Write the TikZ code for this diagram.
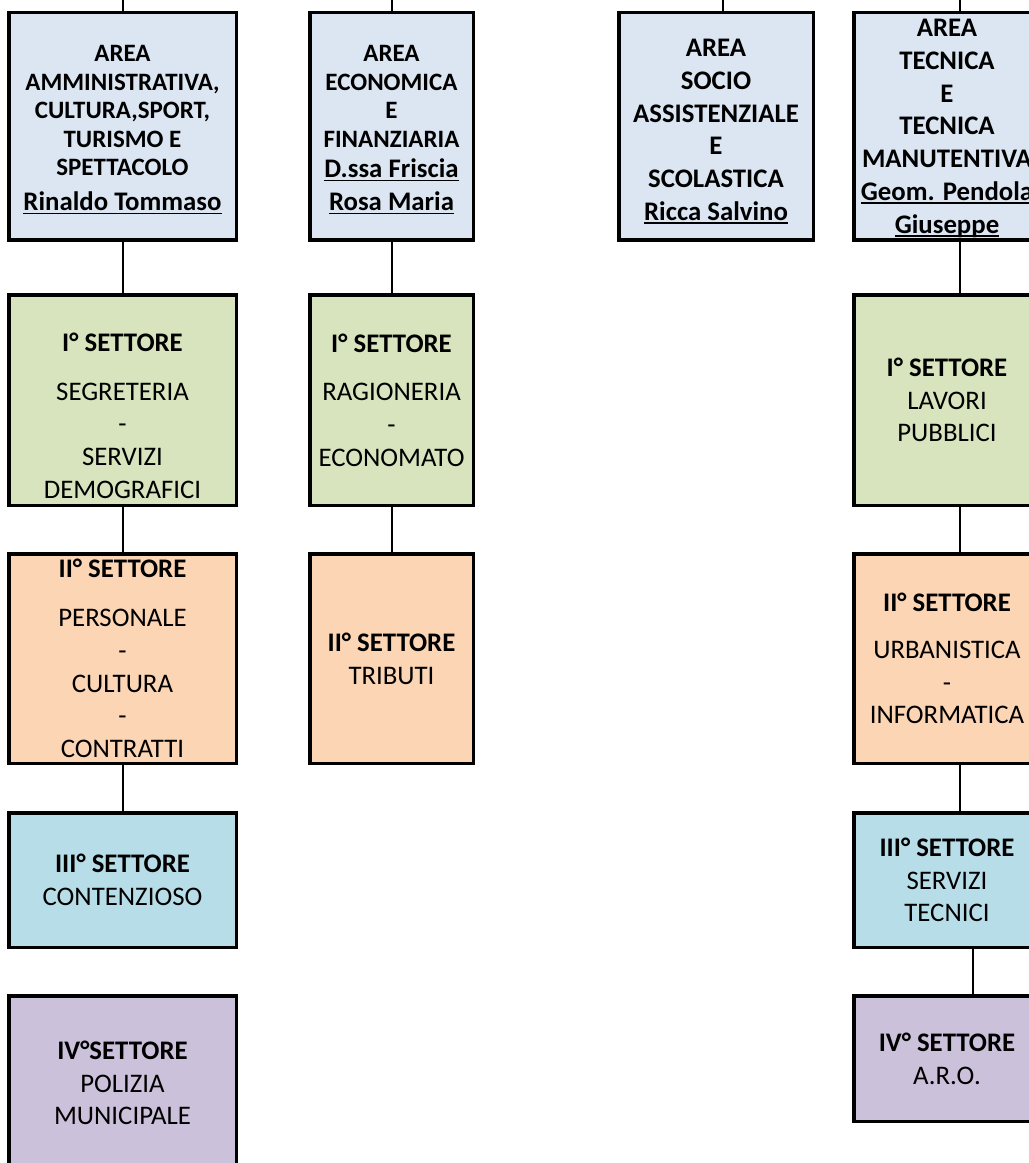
\documentclass[tikz,border=0pt]{standalone}
\usepackage{fontspec}
\setmainfont{Carlito}
\usepackage{tikz}
\usetikzlibrary{calc}

\definecolor{areablue}{HTML}{DCE6F2}
\definecolor{setgreen}{HTML}{D7E4BD}
\definecolor{setorange}{HTML}{FCD5B5}
\definecolor{setaqua}{HTML}{B7DDE8}
\definecolor{setpurple}{HTML}{CCC1DA}

\newcommand{\smallfnt}{\fontsize{25}{28.5}\selectfont}
\newcommand{\largefnt}{\fontsize{26.8}{32.7}\selectfont}
\newcommand{\uln}[1]{\setbox0\hbox{#1}\rlap{\rule[-3.6pt]{\wd0}{1.6pt}}\box0}

\begin{document}
\begin{tikzpicture}[x=1pt,y=-1pt,
  box/.style={draw,line width=3.5pt,align=center,inner sep=0pt},
  areabox/.style={box,fill=areablue,font=\bfseries},
  conn/.style={line width=2pt}]
\useasboundingbox (0,0) rectangle (1029,1163);
\clip (0,0) rectangle (1029,1163);

% aree
\node (amm) [areabox,font=\smallfnt\bfseries,minimum width=227.5,minimum height=227.5] at (122.5,126)
  {\rule{0pt}{24pt}AREA\\AMMINISTRATIVA,\\CULTURA,SPORT,\\TURISMO E\\SPETTACOLO\\[6.5pt]{\largefnt\uln{Rinaldo Tommaso}}};
\node (eco) [areabox,font=\smallfnt\bfseries,minimum width=163.5,minimum height=227.5] at (391.5,126)
  {\rule{0pt}{24pt}AREA\\ECONOMICA\\E\\FINANZIARIA\\[2.2pt]{\largefnt\uln{D.ssa Friscia}}\\[4.5pt]{\largefnt\uln{Rosa Maria}}};
\node (soc) [areabox,font=\largefnt\bfseries,minimum width=194.5,minimum height=227.5] at (716,126)
  {\rule{0pt}{28.3pt}AREA\\SOCIO\\ASSISTENZIALE\\E\\SCOLASTICA\\\uln{Ricca Salvino}};
\node (tec) [areabox,font=\largefnt\bfseries,minimum width=186.5,minimum height=227.5] at (947,126)
  {\rule{0pt}{22pt}AREA\\TECNICA\\E\\TECNICA\\MANUTENTIVA\\\uln{Geom. Pendola}\\\uln{Giuseppe}};

% settori
\node (amm1) [box,fill=setgreen,font=\largefnt,minimum width=227.5,minimum height=210.5] at (122.5,400)
  {\rule{0pt}{50pt}\textbf{I° SETTORE}\\[16pt]SEGRETERIA\\-\\SERVIZI\\DEMOGRAFICI};
\node (amm2) [box,fill=setorange,font=\largefnt,minimum width=227.5,minimum height=209.5] at (122.5,658.5)
  {\textbf{II° SETTORE}\\[16pt]PERSONALE\\-\\CULTURA\\-\\CONTRATTI};
\node (amm3) [box,fill=setaqua,font=\largefnt,minimum width=227.5,minimum height=134.5] at (122.5,880)
  {\textbf{III° SETTORE}\\CONTENZIOSO};
\node (amm4) [box,fill=setpurple,font=\largefnt,minimum width=227.5,minimum height=174.5] at (122.5,1083)
  {\textbf{IV°SETTORE}\\POLIZIA\\MUNICIPALE};

\node (eco1) [box,fill=setgreen,font=\largefnt,minimum width=163.5,minimum height=210.5] at (391.5,400)
  {\textbf{I° SETTORE}\\[16pt]RAGIONERIA\\-\\ECONOMATO};
\node (eco2) [box,fill=setorange,font=\largefnt,minimum width=163.5,minimum height=209.5] at (391.5,658.5)
  {\textbf{II° SETTORE}\\TRIBUTI};

\node (tec1) [box,fill=setgreen,font=\largefnt,minimum width=186.5,minimum height=210.5] at (947,400)
  {\textbf{I° SETTORE}\\LAVORI\\PUBBLICI};
\node (tec2) [box,fill=setorange,font=\largefnt,minimum width=186.5,minimum height=209.5] at (947,658.5)
  {\textbf{II° SETTORE}\\[14pt]URBANISTICA\\-\\INFORMATICA};
\node (tec3) [box,fill=setaqua,font=\largefnt,minimum width=186.5,minimum height=134.5] at (947,880)
  {\textbf{III° SETTORE}\\SERVIZI\\TECNICI};
\node (tec4) [box,fill=setpurple,font=\largefnt,minimum width=186.5,minimum height=125.5] at (947,1058.5)
  {\textbf{IV° SETTORE}\\A.R.O.};

% collegamenti
\coordinate (top1) at (123,0);
\coordinate (top2) at (392,0);
\coordinate (top3) at (723,0);
\coordinate (top4) at (960,0);
\coordinate (off4) at (973,0);

\draw[conn] (top1) -- (top1 |- amm.north);
\draw[conn] (top2) -- (top2 |- eco.north);
\draw[conn] (top3) -- (top3 |- soc.north);
\draw[conn] (top4) -- (top4 |- tec.north);

\draw[conn] (top1 |- amm.south) -- (top1 |- amm1.north);
\draw[conn] (top1 |- amm1.south) -- (top1 |- amm2.north);
\draw[conn] (top1 |- amm2.south) -- (top1 |- amm3.north);
\draw[conn] (top2 |- eco.south) -- (top2 |- eco1.north);
\draw[conn] (top2 |- eco1.south) -- (top2 |- eco2.north);
\draw[conn] (top4 |- tec.south) -- (top4 |- tec1.north);
\draw[conn] (top4 |- tec1.south) -- (top4 |- tec2.north);
\draw[conn] (top4 |- tec2.south) -- (top4 |- tec3.north);
\draw[conn] (off4 |- tec3.south) -- (off4 |- tec4.north);
\end{tikzpicture}
\end{document}
